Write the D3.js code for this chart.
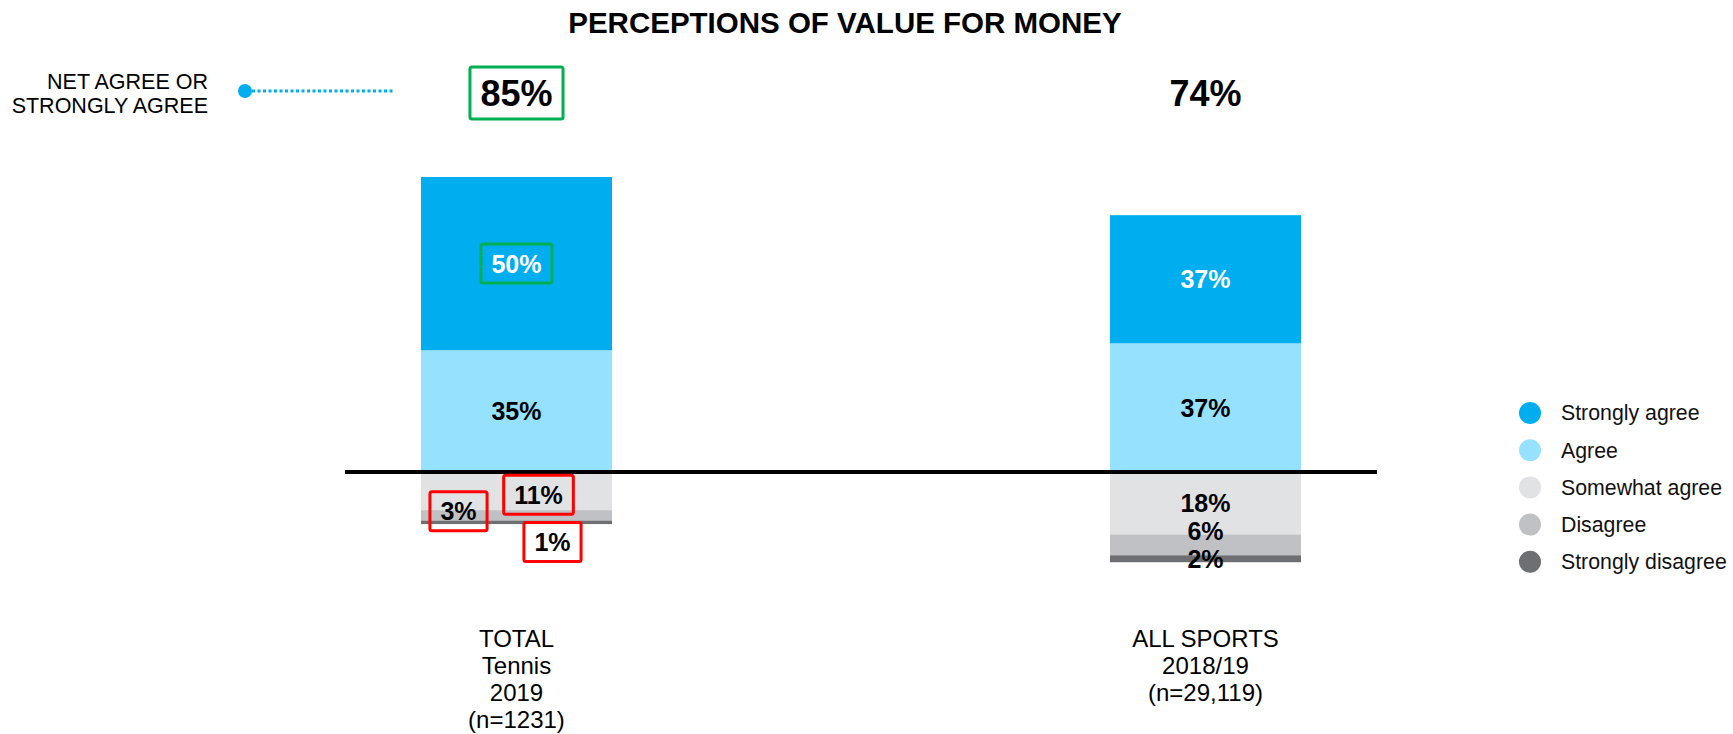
<!DOCTYPE html>
<html>
<head>
<meta charset="utf-8">
<script src="https://cdn.jsdelivr.net/npm/d3@7"></script>
<style>
  body { margin: 0; background: #fff; }
  svg { display: block; font-family: "Liberation Sans", Arial, sans-serif; }
</style>
</head>
<body>
<script>
// data
var groups = ["TOTAL|Tennis|2019|(n=1231)", "ALL SPORTS|2018/19|(n=29,119)"];
var seriesNames = ["Strongly agree", "Agree", "Somewhat agree", "Disagree", "Strongly disagree"];
var seriesColors = ["#00aeef", "#96e1fe", "#e1e2e4", "#c0c1c4", "#6e6f72"];
var labelColors = ["#fff", "#000", "#000", "#000", "#000"];
var stronglyAgree = [50, 37];
var agree = [35, 37];
var somewhatAgree = [11, 18];
var disagree = [3, 6];
var stronglyDisagree = [1, 2];

var values = [stronglyAgree, agree, somewhatAgree, disagree, stronglyDisagree];

// which labels get a highlight box: [group, series, colour]
var highlights = [[0, 0, "#00b050"], [0, 2, "#ff0000"], [0, 3, "#ff0000"], [0, 4, "#ff0000"]];
var netHighlight = ["#00b050", null];
// hand placed label offsets for the crowded first bar
var labelNudge = { "0-2": [22, 4], "0-3": [-58, -4], "0-4": [36, 20] };

var W = 1733, H = 734;

var svg = d3.select("body").append("svg")
    .attr("width", W)
    .attr("height", H);

var x = d3.scaleBand()
    .domain(d3.range(groups.length))
    .range([421, 1301])
    .paddingInner(0.7228)
    .paddingOuter(0);

var zeroY = 472, pxPer = 295 / 85;
var y = d3.scaleLinear()
    .domain([-40, 100])
    .range([zeroY + 40 * pxPer, zeroY - 100 * pxPer]);

// build stacked segments: agree sits on zero, strongly agree on top, rest hang below
var segs = [];
groups.forEach(function(g, gi) {
    var a = values.map(function(arr, si) { return { g: gi, s: si, v: arr[gi] }; });
    a[1].lo = 0; a[1].hi = a[1].v;
    a[0].lo = a[1].v; a[0].hi = a[1].v + a[0].v;
    var acc = 0;
    for (var k = 2; k < a.length; k++) {
        a[k].hi = -acc;
        acc += a[k].v;
        a[k].lo = -acc;
    }
    segs = segs.concat(a);
});

svg.append("text")
    .attr("x", 845)
    .attr("y", 33)
    .attr("text-anchor", "middle")
    .attr("font-size", 29.5)
    .attr("font-weight", "bold")
    .text("PERCEPTIONS OF VALUE FOR MONEY");

svg.append("g").selectAll("rect")
    .data(segs)
    .enter().append("rect")
    .attr("x", function(d) { return x(d.g); })
    .attr("width", x.bandwidth())
    .attr("y", function(d) { return y(d.hi); })
    .attr("height", function(d) { return y(d.lo) - y(d.hi); })
    .attr("fill", function(d) { return seriesColors[d.s]; });

// zero line
svg.append("line")
    .attr("x1", 345).attr("x2", 1377)
    .attr("y1", y(0)).attr("y2", y(0))
    .attr("stroke", "#000")
    .attr("stroke-width", 4);

// segment labels
segs.forEach(function(d) {
    d.ly = (y(d.lo) + y(d.hi)) / 2;
    d.lx = x(d.g) + x.bandwidth() / 2;
});
// push crowded labels below the line upward
groups.forEach(function(g, gi) {
    var below = segs.filter(function(d) { return d.g === gi && d.s >= 2; }).reverse();
    for (var k = 1; k < below.length; k++) {
        below[k].ly = Math.min(below[k].ly, below[k - 1].ly - 28);
    }
});
segs.forEach(function(d) {
    var n = labelNudge[d.g + "-" + d.s];
    if (n) {
        d.lx = x(d.g) + x.bandwidth() / 2 + n[0];
        d.ly = (y(d.lo) + y(d.hi)) / 2 + n[1];
    }
});

var labels = svg.append("g").selectAll("text")
    .data(segs)
    .enter().append("text")
    .attr("x", function(d) { return d.lx; })
    .attr("y", function(d) { return d.ly; })
    .attr("dy", "0.35em")
    .attr("text-anchor", "middle")
    .attr("font-size", 25)
    .attr("font-weight", "bold")
    .attr("fill", function(d) { return labelColors[d.s]; })
    .text(function(d) { return d.v + "%"; });

function boxAround(node, colour) {
    var b = node.getBBox();
    svg.append("rect")
        .attr("x", b.x - 10.5)
        .attr("y", b.y - 5.5)
        .attr("width", b.width + 21)
        .attr("height", b.height + 11)
        .attr("rx", 2)
        .attr("fill", "none")
        .attr("stroke", colour)
        .attr("stroke-width", 3);
}

labels.each(function(d) {
    var self = this;
    highlights.forEach(function(h) {
        if (h[0] === d.g && h[1] === d.s) boxAround(self, h[2]);
    });
});

// net agree values
groups.forEach(function(g, gi) {
    var net = stronglyAgree[gi] + agree[gi];
    var t = svg.append("text")
        .attr("x", x(gi) + x.bandwidth() / 2)
        .attr("y", 93)
        .attr("dy", "0.35em")
        .attr("text-anchor", "middle")
        .attr("font-size", 36)
        .attr("font-weight", "bold")
        .text(net + "%");
    if (netHighlight[gi]) boxAround(t.node(), netHighlight[gi]);
});

// net agree key
svg.append("text")
    .attr("x", 208)
    .attr("y", 81)
    .attr("dy", "0.35em")
    .attr("text-anchor", "end")
    .attr("font-size", 21.5)
    .text("NET AGREE OR");
svg.append("text")
    .attr("x", 208)
    .attr("y", 105)
    .attr("dy", "0.35em")
    .attr("text-anchor", "end")
    .attr("font-size", 21.5)
    .text("STRONGLY AGREE");
svg.append("line")
    .attr("x1", 252).attr("x2", 393)
    .attr("y1", 91).attr("y2", 91)
    .attr("stroke", "#00aeef")
    .attr("stroke-width", 3)
    .attr("stroke-dasharray", "3,2.5");
svg.append("circle")
    .attr("cx", 245).attr("cy", 91).attr("r", 7)
    .attr("fill", "#00aeef");

// category labels
groups.forEach(function(g, gi) {
    var t = svg.append("text")
        .attr("text-anchor", "middle")
        .attr("font-size", 24);
    g.split("|").forEach(function(line, li) {
        t.append("tspan")
            .attr("x", x(gi) + x.bandwidth() / 2)
            .attr("y", 639 + li * 26.7)
            .attr("dy", "0.35em")
            .text(line);
    });
});

// legend
var legend = svg.append("g")
    .selectAll("g")
    .data(seriesNames)
    .enter().append("g")
    .attr("transform", function(d, i) { return "translate(1530," + (413 + i * 37.2) + ")"; });

legend.append("circle")
    .attr("r", 11)
    .attr("fill", function(d, i) { return seriesColors[i]; });

legend.append("text")
    .attr("x", 31)
    .attr("dy", "0.35em")
    .attr("font-size", 21.3)
    .attr("fill", "#111")
    .text(function(d) { return d; });
</script>
</body>
</html>
